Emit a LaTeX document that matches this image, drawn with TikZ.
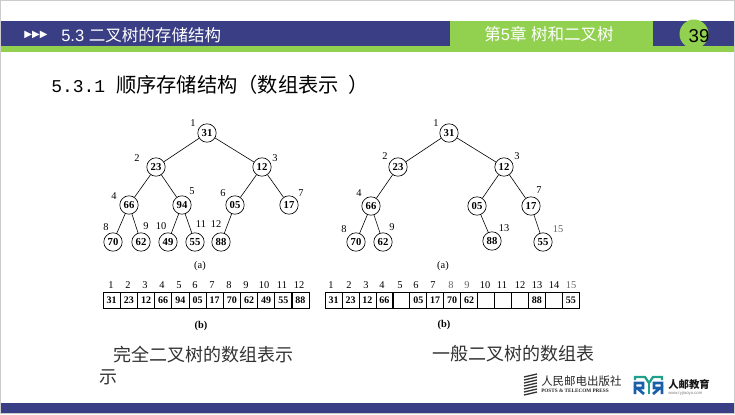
\documentclass[tikz,border=0pt]{standalone}
\usepackage{fontspec}
\setmainfont{Liberation Serif}
\newfontfamily\cjk{Noto Sans CJK SC}
\newfontfamily\arial{Liberation Sans}
\newfontfamily\mono{Liberation Mono}
\newfontfamily\dejavu{DejaVu Sans}
\definecolor{barblue}{RGB}{58,63,133}
\definecolor{bargreen}{RGB}{146,208,80}
\definecolor{logoteal}{RGB}{30,160,140}
\definecolor{logoblue}{RGB}{25,95,170}
\tikzset{
  treenode/.style = {draw, circle, line width = 0.5pt, minimum size = 13.8pt, inner sep = 0pt, font = \fontsize{8}{8}\selectfont\bfseries},
  treeedge/.style = {line width = 0.45pt},
  numlabel/.style = {inner sep = 0pt, font = \fontsize{7.8}{8}\selectfont},
  cell/.style = {draw, line width = 0.55pt, minimum width = 12.9pt, minimum height = 12.5pt, inner sep = 0pt, font = \fontsize{7.5}{8}\selectfont\bfseries},
  widecell/.style = {cell, minimum width = 12.72pt},
  caption/.style = {inner sep = 0pt, text = black!80, font = \fontsize{13.5}{14}\selectfont\cjk}
}
\begin{document}
\begin{tikzpicture}[x = 0.75pt, y = -0.75pt]
            \useasboundingbox (0, 0) rectangle (735, 414);
            % frame and bars
            \fill [white] (0, 0) rectangle (735, 414);
            \draw [black!20, line width = 1pt] (0.5, 0.5) rectangle (734.5, 413.5);
            \fill [barblue] (1, 21) rectangle (734, 46);
            \fill [bargreen] (1, 46) rectangle (734, 52);
            \fill [bargreen] (450, 21) rectangle (653, 46);
            \fill [barblue] (1, 403) rectangle (734, 413);
            \fill [bargreen] (694, 34) circle [radius = 14.5];
            \node [inner sep = 0pt, text = white, font = \fontsize{7.5}{8}\selectfont\dejavu] (arrows) at (36, 35) {▶▶▶};
            \node [inner sep = 0pt, text = white, anchor = west, font = \fontsize{12.4}{13}\selectfont\arial] (section) at (61, 35.5) {5.3 {\cjk 二叉树的存储结构}};
            \node [inner sep = 0pt, text = white, anchor = west, font = \fontsize{12.4}{13}\selectfont\arial] (chapter) at (484, 34.5) {{\cjk 第}5{\cjk 章} {\cjk 树和二叉树}};
            \node [inner sep = 0pt, font = \fontsize{14}{15}\selectfont\arial] (page) at (699, 36) {39};
            \node [inner sep = 0pt, anchor = west, font = \fontsize{13.5}{15}\selectfont\mono] (heading) at (51, 85) {5.3.1 {\fontsize{15.2}{16}\selectfont\cjk 顺序存储结构（数组表示\kern 7pt ）}};
            % complete tree
            \node [treenode] (a1) at (207, 133) {31};
            \node [treenode] (a2) at (156, 167) {23};
            \node [treenode] (a3) at (262, 167) {12};
            \node [treenode] (a4) at (129, 205) {66};
            \node [treenode] (a5) at (182, 205) {94};
            \node [treenode] (a6) at (235, 205) {05};
            \node [treenode] (a7) at (289, 205) {17};
            \node [treenode] (a8) at (113, 242) {70};
            \node [treenode] (a9) at (141, 242) {62};
            \node [treenode] (a10) at (168, 242) {49};
            \node [treenode] (a11) at (195, 242) {55};
            \node [treenode] (a12) at (221, 242) {88};
            \draw [treeedge] (a1) -- (a2);
            \draw [treeedge] (a1) -- (a3);
            \draw [treeedge] (a2) -- (a4);
            \draw [treeedge] (a2) -- (a5);
            \draw [treeedge] (a3) -- (a6);
            \draw [treeedge] (a3) -- (a7);
            \draw [treeedge] (a4) -- (a8);
            \draw [treeedge] (a4) -- (a9);
            \draw [treeedge] (a5) -- (a10);
            \draw [treeedge] (a5) -- (a11);
            \draw [treeedge] (a6) -- (a12);
            \node [numlabel] (la1) at (193, 123) {1};
            \node [numlabel] (la2) at (137, 158) {2};
            \node [numlabel] (la3) at (275, 158) {3};
            \node [numlabel] (la4) at (114, 196) {4};
            \node [numlabel] (la5) at (192, 191) {5};
            \node [numlabel] (la6) at (223, 193) {6};
            \node [numlabel] (la7) at (301, 193) {7};
            \node [numlabel] (la8) at (106, 227) {8};
            \node [numlabel] (la9) at (146, 226) {9};
            \node [numlabel] (la10) at (161, 226) {10};
            \node [numlabel] (la11) at (201, 224) {11};
            \node [numlabel] (la12) at (216, 224) {12};
            \node [numlabel] (capa) at (200, 266) {(a)};
            % general tree
            \node [treenode] (b1) at (449, 133) {31};
            \node [treenode] (b2) at (398, 167) {23};
            \node [treenode] (b3) at (504, 167) {12};
            \node [treenode] (b4) at (371, 206) {66};
            \node [treenode] (b6) at (477, 206) {05};
            \node [treenode] (b7) at (531, 206) {17};
            \node [treenode] (b8) at (356, 242) {70};
            \node [treenode] (b9) at (383, 242) {62};
            \node [treenode] (b13) at (492, 241) {88};
            \node [treenode] (b15) at (543, 242) {55};
            \draw [treeedge] (b1) -- (b2);
            \draw [treeedge] (b1) -- (b3);
            \draw [treeedge] (b2) -- (b4);
            \draw [treeedge] (b3) -- (b6);
            \draw [treeedge] (b3) -- (b7);
            \draw [treeedge] (b4) -- (b8);
            \draw [treeedge] (b4) -- (b9);
            \draw [treeedge] (b6) -- (b13);
            \draw [treeedge] (b7) -- (b15);
            \node [numlabel] (lb1) at (436, 123) {1};
            \node [numlabel] (lb2) at (385, 156) {2};
            \node [numlabel] (lb3) at (517, 156) {3};
            \node [numlabel] (lb4) at (359, 193) {4};
            \node [numlabel] (lb7) at (539, 190) {7};
            \node [numlabel] (lb8) at (344, 229) {8};
            \node [numlabel] (lb9) at (392, 227) {9};
            \node [numlabel] (lb13) at (504, 228) {13};
            \node [numlabel, text = black!60] (lb15) at (558, 229) {15};
            \node [numlabel] (capb) at (443, 266) {(a)};
            % first array
            \node [cell] (ca1) at (111.6, 300.5) {31};
            \node [cell] (ca2) at (128.8, 300.5) {23};
            \node [cell] (ca3) at (146, 300.5) {12};
            \node [cell] (ca4) at (163.1, 300.5) {66};
            \node [cell] (ca5) at (180.3, 300.5) {94};
            \node [cell] (ca6) at (197.5, 300.5) {05};
            \node [cell] (ca7) at (214.6, 300.5) {17};
            \node [cell] (ca8) at (231.8, 300.5) {70};
            \node [cell] (ca9) at (249, 300.5) {62};
            \node [cell] (ca10) at (266.1, 300.5) {49};
            \node [cell] (ca11) at (283.3, 300.5) {55};
            \node [cell] (ca12) at (300.4, 300.5) {88};
            \node [numlabel] (ia1) at (111, 285) {1};
            \node [numlabel] (ia2) at (128, 285) {2};
            \node [numlabel] (ia3) at (145, 285) {3};
            \node [numlabel] (ia4) at (162, 285) {4};
            \node [numlabel] (ia5) at (179, 285) {5};
            \node [numlabel] (ia6) at (195, 285) {6};
            \node [numlabel] (ia7) at (212, 285) {7};
            \node [numlabel] (ia8) at (229, 285) {8};
            \node [numlabel] (ia9) at (246, 285) {9};
            \node [numlabel] (ia10) at (264, 285) {10};
            \node [numlabel] (ia11) at (282, 285) {11};
            \node [numlabel] (ia12) at (299, 285) {12};
            \node [numlabel, font = \fontsize{7.8}{8}\selectfont\bfseries] (capc) at (201, 326) {(b)};
            % second array
            \node [widecell] (cb1) at (333.5, 300.5) {31};
            \node [widecell] (cb2) at (350.5, 300.5) {23};
            \node [widecell] (cb3) at (367.4, 300.5) {12};
            \node [widecell] (cb4) at (384.4, 300.5) {66};
            \node [widecell] (cb5) at (401.3, 300.5) {};
            \node [widecell] (cb6) at (418.3, 300.5) {05};
            \node [widecell] (cb7) at (435.2, 300.5) {17};
            \node [widecell] (cb8) at (452.2, 300.5) {70};
            \node [widecell] (cb9) at (469.1, 300.5) {62};
            \node [widecell] (cb10) at (486.1, 300.5) {};
            \node [widecell] (cb11) at (503, 300.5) {};
            \node [widecell] (cb12) at (520, 300.5) {};
            \node [widecell] (cb13) at (536.9, 300.5) {88};
            \node [widecell] (cb14) at (553.9, 300.5) {};
            \node [widecell] (cb15) at (570.8, 300.5) {55};
            \node [numlabel] (ib1) at (331, 285) {1};
            \node [numlabel] (ib2) at (349, 285) {2};
            \node [numlabel] (ib3) at (366, 285) {3};
            \node [numlabel] (ib4) at (382, 285) {4};
            \node [numlabel] (ib5) at (400, 285) {5};
            \node [numlabel] (ib6) at (416, 285) {6};
            \node [numlabel] (ib7) at (433, 285) {7};
            \node [numlabel, text = black!60] (ib8) at (451, 285) {8};
            \node [numlabel, text = black!60] (ib9) at (467, 285) {9};
            \node [numlabel] (ib10) at (485, 285) {10};
            \node [numlabel] (ib11) at (502, 285) {11};
            \node [numlabel] (ib12) at (520, 285) {12};
            \node [numlabel] (ib13) at (537, 285) {13};
            \node [numlabel] (ib14) at (554, 285) {14};
            \node [numlabel, text = black!60] (ib15) at (571, 285) {15};
            \node [numlabel, font = \fontsize{7.8}{8}\selectfont\bfseries] (capd) at (444, 325) {(b)};
            % captions
            \node [caption, anchor = west] (textl) at (113, 355) {完全二叉树的数组表示};
            \node [caption, anchor = west] (textm) at (99, 377) {示};
            \node [caption, anchor = west] (textr) at (432, 354) {一般二叉树的数组表};
            % logos
            \foreach \y in {376, 379, 382, 385, 388, 391, 394}
                \draw [black!80, line width = 1pt] (524, \y + 1) -- (537, \y - 2);
            \node [inner sep = 0pt, anchor = west, text = black!85, font = \fontsize{8.6}{9}\selectfont\cjk] (press) at (541, 381) {人民邮电出版社};
            \node [inner sep = 0pt, anchor = west, text = black!85, font = \fontsize{3.9}{4}\selectfont\bfseries] (presseng) at (541, 391) {POSTS \& TELECOM PRESS};
            \draw [logoteal, line width = 1.7pt] (635, 380) -- (635, 377) -- (645, 377) -- (649, 383) -- (653, 377) -- (662, 377) -- (662, 380);
            \draw [logoteal, line width = 1.7pt] (649, 383) -- (649, 394);
            \draw [logoblue, line width = 2pt] (635, 394) -- (635, 383) -- (643, 383) -- (643, 388) -- (637, 388) -- (644, 394);
            \draw [logoblue, line width = 2pt] (662, 394) -- (662, 383) -- (654, 383) -- (654, 388) -- (660, 388) -- (653, 394);
            \node [inner sep = 0pt, anchor = west, text = black!90, font = \fontsize{7.8}{8}\selectfont\bfseries\cjk] (edu) at (668, 384) {人邮教育};
            \node [inner sep = 0pt, anchor = west, text = black!50, font = \fontsize{3.2}{4}\selectfont\arial] (eduweb) at (668, 393) {www.ryjiaoyu.com};
        \end{tikzpicture}
\end{document}
